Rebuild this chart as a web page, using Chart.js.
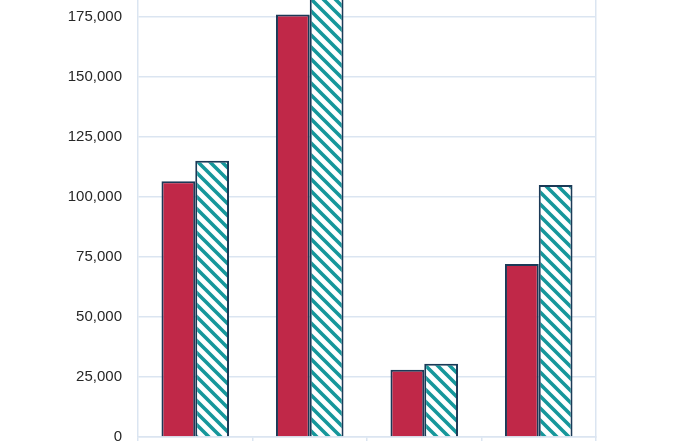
<!DOCTYPE html>
<html>
<head>
<meta charset="utf-8">
<script src="https://cdn.jsdelivr.net/npm/chart.js@4/dist/chart.umd.min.js"></script>
<style>
  html, body { margin: 0; padding: 0; background: #ffffff; }
  #wrap { width: 700px; height: 441px; position: relative; }
</style>
</head>
<body>
<div id="wrap"><canvas id="bar-chart"></canvas></div>
<script>
  'use strict';

  // values (x labels sit below the visible crop)
  const categories = ['A', 'B', 'C', 'D'];
  const solidSeries = [106500, 176000, 28000, 72000];
  const stripedSeries = [115000, 190000, 30500, 105000];
  const yTicks = [0, 25000, 50000, 75000, 100000, 125000, 150000, 175000];
  const yMax = 182000;

  const gridColor = '#dbe5f1';
  const edgeColor = '#1b3a57';

  function stripes(color) {
    const size = 12;
    const tile = document.createElement('canvas');
    tile.width = size;
    tile.height = size;
    const c = tile.getContext('2d');
    c.fillStyle = '#ffffff';
    c.fillRect(0, 0, size, size);
    c.strokeStyle = color;
    c.lineWidth = 3.6;
    c.beginPath();
    c.moveTo(-size, -size); c.lineTo(2 * size, 2 * size);
    c.moveTo(-size, 0); c.lineTo(size, 2 * size);
    c.moveTo(0, -size); c.lineTo(2 * size, size);
    c.stroke();
    return c.createPattern(tile, 'repeat');
  }

  Chart.defaults.font.family = '"Liberation Sans", Arial, sans-serif';

  const barCanvas = document.getElementById('bar-chart');
  new Chart(barCanvas, {
    type: 'bar',
    data: {
      labels: categories,
      datasets: [
        {
          data: solidSeries,
          backgroundColor: '#c02848',
          borderColor: edgeColor,
          borderWidth: 2,
          borderSkipped: 'bottom'
        },
        {
          data: stripedSeries,
          backgroundColor: stripes('#16979b'),
          borderColor: edgeColor,
          borderWidth: 2,
          borderSkipped: 'bottom'
        }
      ]
    },
    options: {
      responsive: true,
      maintainAspectRatio: false,
      animation: false,
      layout: { padding: { top: 0, right: 104, bottom: 0, left: 0 } },
      datasets: {
        bar: { categoryPercentage: 0.59, barPercentage: 1 }
      },
      plugins: {
        legend: { display: false },
        tooltip: { enabled: false }
      },
      scales: {
        x: {
          ticks: { display: false },
          grid: {
            drawOnChartArea: false,
            drawTicks: true,
            tickLength: 4,
            color: gridColor,
            lineWidth: 1.5
          },
          border: { color: gridColor, width: 1.5 },
          afterFit: function (scale) {
            scale.height = 4;
            scale.paddingLeft = 0;
            scale.paddingRight = 0;
          }
        },
        y: {
          min: 0,
          max: yMax,
          afterBuildTicks: function (scale) {
            scale.ticks = yTicks.map(function (v) { return { value: v }; });
          },
          ticks: {
            padding: 16,
            color: '#272727',
            font: { size: 15 },
            callback: function (v) { return v.toLocaleString('en-US'); }
          },
          grid: { color: gridColor, lineWidth: 1.5, drawTicks: false },
          border: { color: gridColor, width: 1.5 },
          afterFit: function (scale) {
            scale.width = 138;
            scale.paddingTop = 0;
            scale.paddingBottom = 0;
          }
        },
        y2: {
          position: 'right',
          min: 0,
          max: yMax,
          ticks: { display: false },
          grid: { drawOnChartArea: false, drawTicks: false },
          border: { color: gridColor, width: 1.5 },
          afterFit: function (scale) {
            scale.width = 0;
            scale.paddingTop = 0;
            scale.paddingBottom = 0;
          }
        }
      }
    }
  });
</script>
</body>
</html>
